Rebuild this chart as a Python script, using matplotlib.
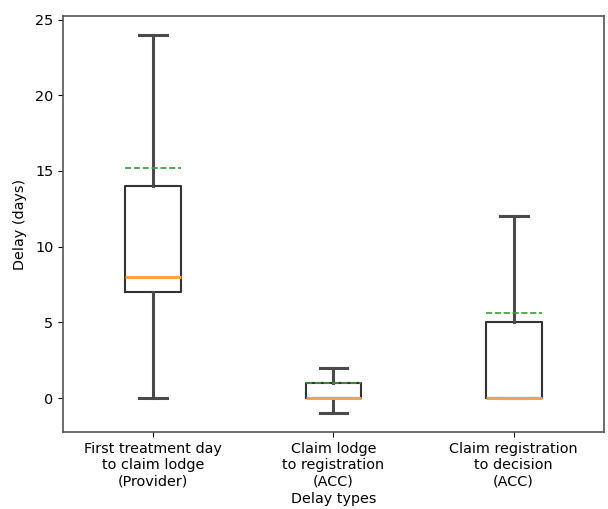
import matplotlib
matplotlib.use("Agg")
import matplotlib.pyplot as plt

# delay categories (x tick labels)
labels = ["First treatment day\nto claim lodge\n(Provider)",
          "Claim lodge\nto registration\n(ACC)",
          "Claim registration\nto decision\n(ACC)"]
# box statistics (days)
q1 = [7, 0, 0]
med = [8, 0, 0]
q3 = [14, 1, 5]
whislo = [0, -1, 0]
whishi = [24, 2, 12]
means = [15.2, 1.0, 5.6]

stats = [dict(label=l, q1=a, med=m, q3=b, whislo=lo, whishi=hi, mean=mu, fliers=[])
         for l, a, m, b, lo, hi, mu in zip(labels, q1, med, q3, whislo, whishi, means)]

fig = plt.figure(figsize=(6.08, 5.09), dpi=100)
ax = fig.add_axes([0.104, 0.151, 0.889, 0.818])
ax.bxp(stats, widths=0.31, showmeans=True, meanline=True, showfliers=False,
       boxprops=dict(color="#333333", linewidth=1.5),
       whiskerprops=dict(color="#4a4a4a", linewidth=2.2),
       capprops=dict(color="#4a4a4a", linewidth=2.2),
       medianprops=dict(color="#ffa04a", linewidth=2.2),
       meanprops=dict(color="#3a9a3a", linewidth=1.2, linestyle="--"))
ax.set_ylabel("Delay (days)", fontsize=10.4, labelpad=6)
ax.set_xlabel("Delay types", fontsize=10.4, labelpad=3)
ax.tick_params(labelsize=10.4)
for s in ax.spines.values():
    s.set_color("#555555")
    s.set_linewidth(1.2)
fig.savefig("out.png", dpi=100)
